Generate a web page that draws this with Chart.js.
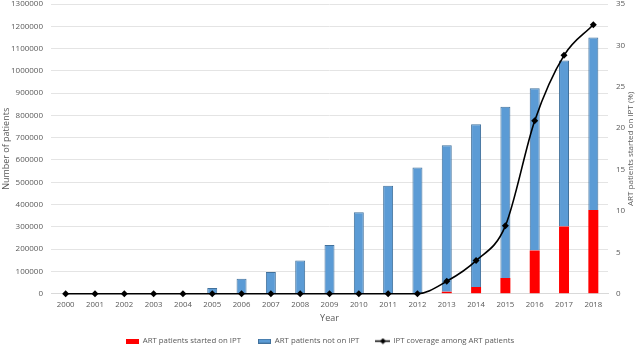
<!DOCTYPE html>
<html>
<head>
<meta charset="utf-8">
<script src="https://cdn.jsdelivr.net/npm/chart.js@4/dist/chart.umd.min.js"></script>
<style>
html,body{margin:0;padding:0;background:#fff;}
#wrap{width:640px;height:346px;position:relative;}
</style>
</head>
<body>
<div id="wrap"><canvas id="c" width="640" height="346"></canvas></div>
<script>
const years = ['2000','2001','2002','2003','2004','2005','2006','2007','2008','2009','2010','2011','2012','2013','2014','2015','2016','2017','2018'];
const startedOnIPT = [0,0,0,0,0,0,0,0,0,0,0,0,0,9000,30000,70000,194000,301000,376000];
const totalOnART = [0,0,0,0,0,25500,67000,97000,149000,219000,365000,484000,566000,666000,760000,839000,922000,1047000,1150000];
const notOnIPT = totalOnART.map((t,i)=>t-startedOnIPT[i]);
const coveragePct = [0,0,0,0,0,0,0,0,0,0,0,0,0,1.5,4.0,8.2,20.9,28.8,32.5];
const leftTicks = {min:0,max:1300000,step:100000};
const rightTicks = {min:0,max:35,step:5};
const rightTitle = 'ART patients started on IPT (%)';

const FONT = 'Open Sans';
const GREY = '#595959';

function boxImg(fill, stroke){
  const c=document.createElement('canvas'); c.width=13; c.height=5;
  const x=c.getContext('2d'); x.fillStyle=fill; x.fillRect(0,0,13,5);
  if(stroke){x.strokeStyle=stroke;x.lineWidth=1;x.strokeRect(0.5,0.5,12,4);}
  return c;
}
function lineImg(){
  const c=document.createElement('canvas'); c.width=15; c.height=7;
  const x=c.getContext('2d'); x.strokeStyle='#000'; x.lineWidth=1.5;
  x.beginPath(); x.moveTo(0,3.5); x.lineTo(15,3.5); x.stroke();
  x.fillStyle='#000'; x.beginPath(); x.moveTo(7.5,0.5); x.lineTo(10.5,3.5); x.lineTo(7.5,6.5); x.lineTo(4.5,3.5); x.closePath(); x.fill();
  return c;
}
const legendImgs=[boxImg('#ff0000'), boxImg('#5b9bd5','#41719c'), lineImg()];

const rightAxisPlugin = {
  id:'rightAxis',
  afterDraw(chart){
    const s=chart.scales.y1, ctx=chart.ctx;
    ctx.save();
    ctx.fillStyle=GREY;
    ctx.font='8px "'+FONT+'"'; ctx.textAlign='left'; ctx.textBaseline='middle';
    s.ticks.forEach(t=>{ ctx.fillText(String(t.value), s.left+8, s.getPixelForValue(t.value)); });
    ctx.translate(s.right-9, (chart.chartArea.top+chart.chartArea.bottom)/2);
    ctx.rotate(-Math.PI/2);
    ctx.font='8px "'+FONT+'"'; ctx.textAlign='center';
    ctx.fillText(rightTitle,0,0);
    ctx.restore();
  }
};

const chart = new Chart(document.getElementById('c'), {
  data: {
    labels: years,
    datasets: [
      {type:'line', label:'IPT coverage among ART patients', data:coveragePct, yAxisID:'y1',
       borderColor:'#000', borderWidth:1.6, pointStyle:'rectRot', pointRadius:3.5, pointBackgroundColor:'#000',
       pointBorderColor:'#000', pointBorderWidth:0, cubicInterpolationMode:'monotone', order:0, clip:false},
      {type:'bar', label:'ART patients started on IPT', data:startedOnIPT, yAxisID:'y', stack:'s',
       backgroundColor:'#ff0000', borderColor:'#c00000', borderWidth:0, barPercentage:0.34, categoryPercentage:1, order:1},
      {type:'bar', label:'ART patients not on IPT', data:notOnIPT, yAxisID:'y', stack:'s',
       backgroundColor:'#5b9bd5', borderColor:'#41719c', borderWidth:1, barPercentage:0.34, categoryPercentage:1, order:2}
    ]
  },
  plugins:[rightAxisPlugin],
  options: {
    responsive:false, animation:false,
    layout:{padding:{top:0,left:0,right:0,bottom:-9}},
    plugins:{
      tooltip:{enabled:false},
      legend:{position:'bottom',
        labels:{usePointStyle:true, pointStyleWidth:13, boxHeight:6, padding:17, color:GREY, font:{family:FONT,size:7.8},
          generateLabels:(chart)=>{
            const ds=chart.data.datasets;
            return [1,2,0].map((di,k)=>({text:ds[di].label, pointStyle:legendImgs[k], fillStyle:'#000', strokeStyle:'#000', lineWidth:0, datasetIndex:di, fontColor:GREY}));
          }}}
    },
    scales:{
      x:{stacked:true, grid:{display:false,drawTicks:false}, border:{color:'#d9d9d9'},
         ticks:{color:GREY,font:{family:FONT,size:7.8},maxRotation:0,autoSkip:false,padding:6.5},
         title:{display:true,text:'Year',color:GREY,font:{family:FONT,size:9},padding:{top:0,bottom:-3.9}},
         afterFit:(s)=>{s.height=26.5;}},
      y:{stacked:true, position:'left', min:leftTicks.min, max:leftTicks.max,
         ticks:{stepSize:leftTicks.step,color:GREY,font:{family:FONT,size:8,lineHeight:0.8},padding:0,callback:(v)=>String(v)},
         grid:{color:'#e4e4e4',drawTicks:true,tickLength:8,tickColor:'rgba(0,0,0,0)'}, border:{display:false},
         title:{display:true,text:'Number of patients',color:GREY,font:{family:FONT,size:9},padding:{top:1,bottom:0}},
         afterFit:(s)=>{s.width=51;}},
      y1:{position:'right', min:rightTicks.min, max:rightTicks.max,
         ticks:{stepSize:rightTicks.step,display:false},
         grid:{display:false,drawTicks:false}, border:{display:false},
         title:{display:false},
         afterFit:(s)=>{s.width=32;}}
    }
  }
});
</script>
</body>
</html>
